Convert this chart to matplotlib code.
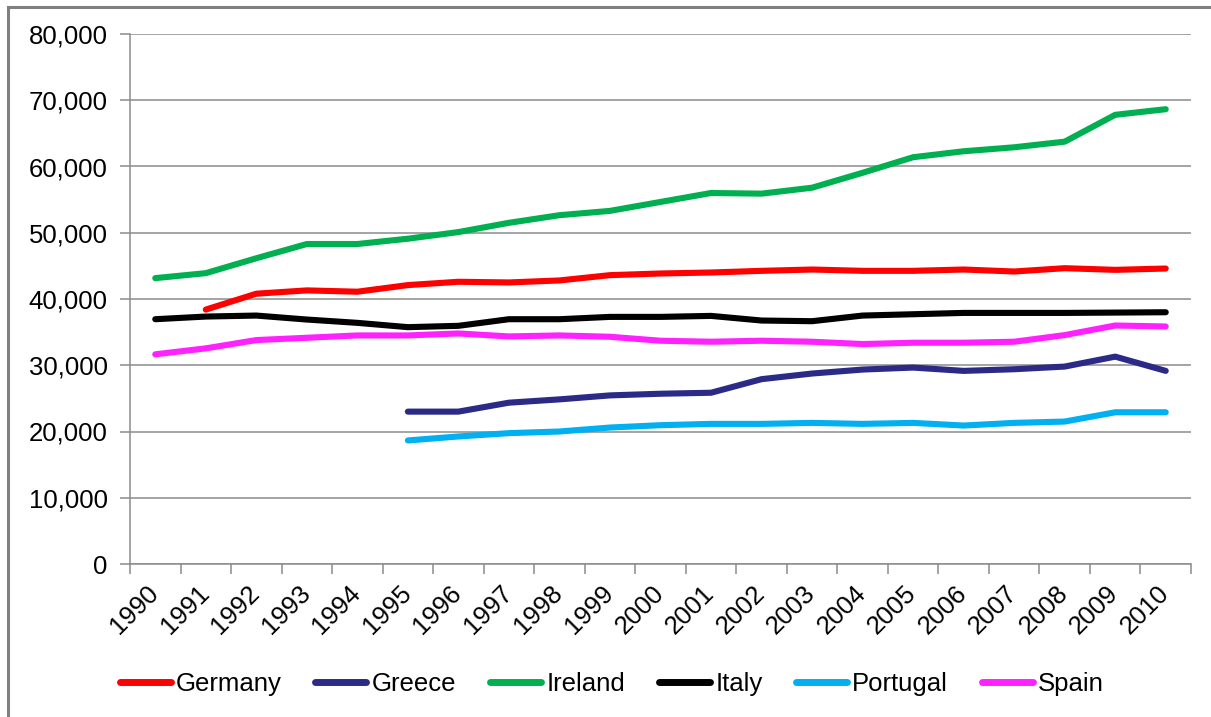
#!/usr/bin/env python3
"""
plot.py – GDP per capita lines, 1990-2010 (Excel-like chart)
"""

import numpy as np
import matplotlib
matplotlib.use("Agg")
import matplotlib.pyplot as plt
from matplotlib.lines import Line2D
from matplotlib.patches import Rectangle
from matplotlib.ticker import FuncFormatter, FixedLocator
from matplotlib.transforms import ScaledTranslation

# ----------------------------------------------------------------------
# Data
# ----------------------------------------------------------------------
years = [str(y) for y in range(1990, 2011)]
nan = np.nan

germany  = [nan, 38400, 40800, 41300, 41100, 42100, 42600, 42500, 42800, 43600, 43850,
            44000, 44250, 44450, 44250, 44250, 44450, 44150, 44650, 44400, 44600]
greece   = [nan, nan, nan, nan, nan, 23000, 23000, 24350, 24850, 25450, 25700,
            25850, 27900, 28750, 29350, 29650, 29150, 29400, 29800, 31300, 29150]
ireland  = [43150, 43900, 46150, 48300, 48300, 49100, 50100, 51500, 52650, 53300, 54650,
            56000, 55900, 56800, 59050, 61400, 62300, 62900, 63750, 67800, 68650]
italy    = [36950, 37350, 37500, 36900, 36400, 35750, 35950, 36950, 36950, 37300, 37300,
            37450, 36750, 36650, 37500, 37700, 37900, 37900, 37900, 37950, 38000]
portugal = [nan, nan, nan, nan, nan, 18650, 19250, 19750, 20000, 20600, 20950,
            21150, 21150, 21300, 21150, 21300, 20900, 21300, 21500, 22900, 22900]
spain    = [31650, 32550, 33800, 34150, 34500, 34500, 34800, 34350, 34500, 34300, 33700,
            33550, 33700, 33550, 33200, 33400, 33400, 33550, 34550, 36000, 35850]

series = [
    ("Germany", germany, "#FF0000"),
    ("Greece", greece, "#2B2A87"),
    ("Ireland", ireland, "#00B050"),
    ("Italy", italy, "#000000"),
    ("Portugal", portugal, "#00B0F0"),
    ("Spain", spain, "#FF22FF"),
]

GRID = "#8C8C8C"
FS = 18.5
W, H = 1211, 717

plt.rcParams["font.family"] = ["Liberation Sans", "DejaVu Sans"]

fig = plt.figure(figsize=(W / 100, H / 100), dpi=100)
ax = fig.add_axes([130 / W, 1 - 564 / H, (1191 - 130) / W, (564 - 34) / H])

x = np.arange(len(years))
for name, vals, col in series:
    ax.plot(x, vals, color=col, lw=4.4, label=name,
            solid_capstyle="round", solid_joinstyle="round", zorder=3)

# axes, grid, ticks
ax.set_xlim(-0.5, len(years) - 0.5)
ax.set_ylim(0, 80000)
ax.set_yticks(np.arange(0, 80001, 10000))
ax.yaxis.set_major_formatter(FuncFormatter(lambda v, p: f"{v:,.0f}"))
ax.grid(axis="y", color=GRID, lw=1.1, zorder=0)
ax.set_axisbelow(True)

for s in ["top", "right"]:
    ax.spines[s].set_visible(False)
for s in ["left", "bottom"]:
    ax.spines[s].set_color(GRID)
    ax.spines[s].set_linewidth(1.1)

ax.tick_params(axis="y", length=7, width=1.1, color=GRID, labelsize=FS, pad=9)
ax.set_xticks(x)
ax.set_xticklabels(years, rotation=45, ha="right", fontsize=FS)
ax.tick_params(axis="x", which="major", length=0, pad=12)
ax.xaxis.set_minor_locator(FixedLocator(np.arange(-0.5, len(years), 1.0)))
ax.tick_params(axis="x", which="minor", length=7, width=1.1, color=GRID)
shift = ScaledTranslation(8 / 100, 0, fig.dpi_scale_trans)
for lbl in ax.get_xticklabels():
    lbl.set_transform(lbl.get_transform() + shift)

# legend under the plot, one row (built by hand so the texts share a baseline)
renderer = fig.canvas.get_renderer()
xpos = 116
for name, vals, col in series:
    fig.add_artist(Line2D([(xpos + 3.5) / W, (xpos + 54.5) / W], [1 - 682 / H] * 2,
                          transform=fig.transFigure, color=col, lw=5,
                          solid_capstyle="round"))
    t = fig.text((xpos + 60) / W, 1 - 691 / H, name, fontsize=FS, va="baseline")
    xpos += 60 + t.get_window_extent(renderer).width + 30

# chart area border (cut by the picture edge on the right and bottom)
fig.add_artist(Rectangle((8 / W, -0.1), 1.2, 1.1 - 7 / H, transform=fig.transFigure,
                         fill=False, edgecolor="#808080", lw=2.2))

plt.savefig("out.png", dpi=100)
plt.close()
